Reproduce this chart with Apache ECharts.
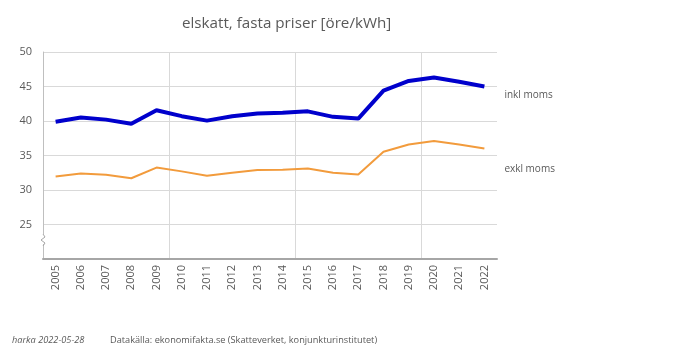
<!DOCTYPE html>
<html><head><meta charset="utf-8">
<script src="https://cdn.jsdelivr.net/npm/echarts@6/dist/echarts.min.js"></script>
<style>html,body{margin:0;padding:0;background:#fff}#c{width:700px;height:353px}</style>
</head><body><div id="c"></div>
<script>
const years = ['2005','2006','2007','2008','2009','2010','2011','2012','2013','2014','2015','2016','2017','2018','2019','2020','2021','2022'];
const inklMoms = [39.9,40.5,40.2,39.6,41.55,40.7,40.05,40.7,41.1,41.2,41.4,40.6,40.35,44.4,45.8,46.3,45.7,45.0];
const exklMoms = [31.95,32.4,32.2,31.7,33.25,32.7,32.05,32.5,32.9,32.95,33.1,32.5,32.25,35.55,36.6,37.1,36.6,36.0];
const yTicks = [25,30,35,40,45,50];

const font = '"Open Sans", "Liberation Sans", sans-serif';
const chart = echarts.init(document.getElementById('c'), null, {renderer:'canvas'});
chart.setOption({
  animation:false,
  backgroundColor:'#fff',
  title:{text:'elskatt, fasta priser [öre/kWh]', left:177, top:11,
    textStyle:{fontFamily:font, fontSize:15.2, fontWeight:'normal', color:'#595959'}},
  grid:{left:43, right:203, top:52, bottom:94},
  xAxis:{type:'category', data:years, boundaryGap:true,
    axisLine:{lineStyle:{color:'#a6a6a6', width:2}},
    axisTick:{show:false},
    axisLabel:{rotate:90, fontFamily:font, fontSize:11, color:'#595959', margin:6},
    splitLine:{show:true, showMinLine:false, showMaxLine:false,
      interval:function(i){return i%5===0;}, lineStyle:{color:'#d9d9d9', width:1}}
  },
  yAxis:{type:'value', min:20, max:50, interval:5,
    axisLine:{show:true, lineStyle:{color:'#bfbfbf', width:1}},
    axisTick:{show:false},
    axisLabel:{fontFamily:font, fontSize:11, color:'#595959', margin:11,
      formatter:function(v){return yTicks.indexOf(v)>=0 ? String(v) : '';}},
    splitLine:{lineStyle:{color:'#d9d9d9', width:1}}
  },
  series:[
    {name:'inkl moms', type:'line', data:inklMoms, symbol:'none',
      lineStyle:{color:'#0000cc', width:4}, itemStyle:{color:'#0000cc'},
      endLabel:{show:true, formatter:'{a}', offset:[12,9], fontFamily:font, fontSize:10, color:'#595959'}},
    {name:'exkl moms', type:'line', data:exklMoms, symbol:'none',
      lineStyle:{color:'#f29b3c', width:2}, itemStyle:{color:'#f29b3c'},
      endLabel:{show:true, formatter:'{a}', offset:[12,21], fontFamily:font, fontSize:10, color:'#595959'}}
  ],
  graphic:[
    {type:'rect', shape:{x:40, y:234, width:6, height:10}, style:{fill:'#fff'}, z:100},
    {type:'polyline', shape:{points:[[43,234],[45,237],[41,240],[45,243],[43,246]]}, style:{stroke:'#a6a6a6', fill:null, lineWidth:1}, z:101},
    {type:'text', left:12, top:336, style:{text:'harka 2022-05-28', font:'italic 9.2px '+font, fill:'#595959'}},
    {type:'text', left:110, top:336, style:{text:'Datakälla: ekonomifakta.se (Skatteverket, konjunkturinstitutet)', font:'9.2px '+font, fill:'#595959'}}
  ]
});
</script></body></html>
